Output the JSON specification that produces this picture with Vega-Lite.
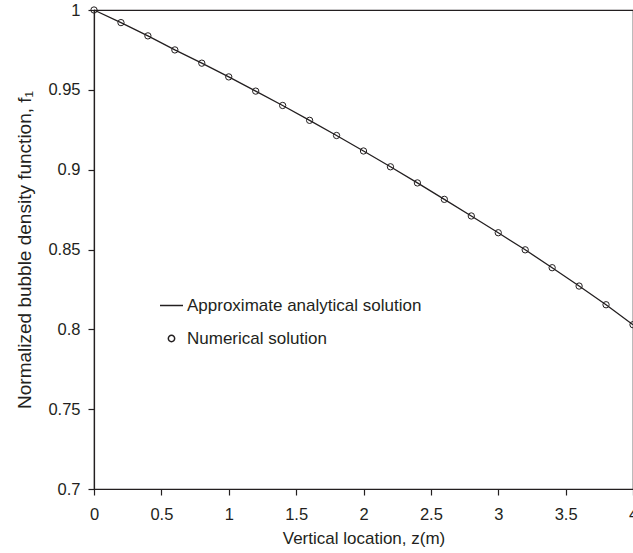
{
  "$schema": "https://vega.github.io/schema/vega-lite/v6.json",
  "width": 539,
  "height": 479,
  "autosize": "none",
  "padding": {"left": 94, "top": 10, "right": 0, "bottom": 64},
  "background": "white",
  "config": {
    "view": {"stroke": "#231f20", "strokeWidth": 1.2},
    "font": "Liberation Sans",
    "axis": {
      "labelFont": "Liberation Sans", "titleFont": "Liberation Sans",
      "labelFontSize": 16.5, "titleFontSize": 17, "titleFontWeight": "normal",
      "labelColor": "#231f20", "titleColor": "#231f20",
      "domainColor": "#231f20", "tickColor": "#231f20",
      "domainWidth": 1.2, "tickWidth": 1.2, "grid": false
    },
    "legend": {"labelFont": "Liberation Sans", "labelFontSize": 17, "labelColor": "#231f20", "labelLimit": 400}
  },
  "data": {
    "values": [
      {"z": 0.0, "f": 1.0, "s": "Numerical solution"},
      {"z": 0.2, "f": 0.9921, "s": "Numerical solution"},
      {"z": 0.4, "f": 0.9838, "s": "Numerical solution"},
      {"z": 0.6, "f": 0.975, "s": "Numerical solution"},
      {"z": 0.8, "f": 0.9667, "s": "Numerical solution"},
      {"z": 1.0, "f": 0.9581, "s": "Numerical solution"},
      {"z": 1.2, "f": 0.9492, "s": "Numerical solution"},
      {"z": 1.4, "f": 0.9402, "s": "Numerical solution"},
      {"z": 1.6, "f": 0.9309, "s": "Numerical solution"},
      {"z": 1.8, "f": 0.9214, "s": "Numerical solution"},
      {"z": 2.0, "f": 0.9117, "s": "Numerical solution"},
      {"z": 2.2, "f": 0.9018, "s": "Numerical solution"},
      {"z": 2.4, "f": 0.8917, "s": "Numerical solution"},
      {"z": 2.6, "f": 0.8814, "s": "Numerical solution"},
      {"z": 2.8, "f": 0.871, "s": "Numerical solution"},
      {"z": 3.0, "f": 0.8605, "s": "Numerical solution"},
      {"z": 3.2, "f": 0.8498, "s": "Numerical solution"},
      {"z": 3.4, "f": 0.8386, "s": "Numerical solution"},
      {"z": 3.6, "f": 0.8271, "s": "Numerical solution"},
      {"z": 3.8, "f": 0.8154, "s": "Numerical solution"},
      {"z": 4.0, "f": 0.8029, "s": "Numerical solution"}
    ]
  },
  "layer": [
    {
      "mark": {"type": "line", "color": "#231f20", "strokeWidth": 1.3},
      "encoding": {
        "x": {
          "field": "z", "type": "quantitative",
          "scale": {"domain": [0, 4], "nice": false, "zero": false},
          "axis": {"orient": "bottom", "values": [0, 0.5, 1, 1.5, 2, 2.5, 3, 3.5, 4], "format": "~g",
                   "tickSize": 6, "labelPadding": 11, "title": "Vertical location, z(m)", "titlePadding": 8, "labelFlush": false, "labelOverlap": false,
                   "encode": {"ticks": {"update": {"y": {"value": -6}}}}}
        },
        "y": {
          "field": "f", "type": "quantitative",
          "scale": {"domain": [0.7, 1], "nice": false, "zero": false},
          "axis": {"orient": "left", "values": [0.7, 0.75, 0.8, 0.85, 0.9, 0.95, 1], "format": "~g",
                   "tickSize": 6, "labelPadding": 8, "title": "Normalized bubble density function, f₁", "titleFontSize": 19, "titlePadding": 13, "labelFlush": false, "labelOverlap": false,
                   "encode": {"ticks": {"update": {"x": {"value": 6}}}}}
        }
      }
    },
    {
      "mark": {"type": "point", "filled": false, "color": "#231f20", "strokeWidth": 1, "opacity": 1},
      "encoding": {
        "x": {"field": "z", "type": "quantitative"},
        "y": {"field": "f", "type": "quantitative"},
        "shape": {
          "field": "s", "type": "nominal",
          "scale": {"domain": ["Approximate analytical solution", "Numerical solution"], "range": ["stroke", "circle"]},
          "legend": {"title": null, "orient": "none", "legendX": 65, "legendY": 283, "rowPadding": 15, "labelOffset": 3, "padding": 0}
        },
        "size": {
          "field": "s", "type": "nominal",
          "scale": {"domain": ["Approximate analytical solution", "Numerical solution"], "range": [529, 40]},
          "legend": {"title": null, "orient": "none", "legendX": 65, "legendY": 283, "rowPadding": 15, "labelOffset": 3, "padding": 0}
        }
      }
    }
  ]
}
